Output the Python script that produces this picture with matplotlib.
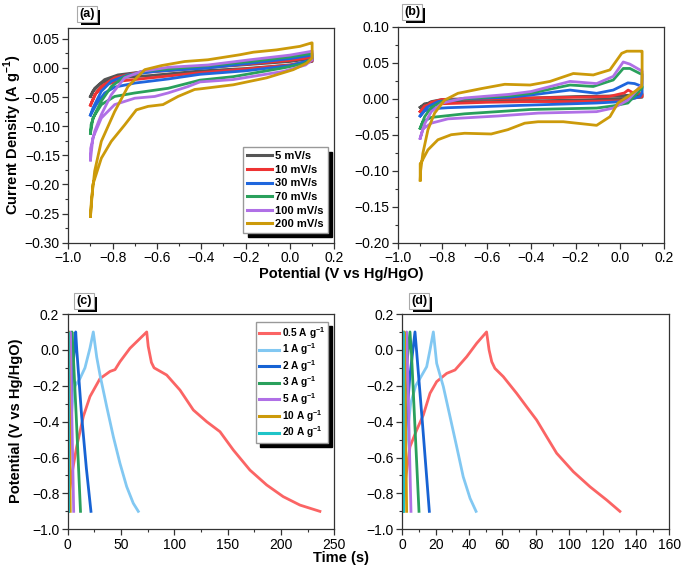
import matplotlib
matplotlib.use("Agg")
import matplotlib.pyplot as plt
from matplotlib.ticker import MultipleLocator, FuncFormatter
import matplotlib.patheffects as pe

plt.rcParams['font.family'] = ['Liberation Sans', 'DejaVu Sans']
plt.rcParams['mathtext.fontset'] = 'custom'
plt.rcParams['mathtext.rm'] = 'Liberation Sans'
plt.rcParams['mathtext.bf'] = 'Liberation Sans:bold'
plt.rcParams['axes.unicode_minus'] = True

# ---------------- Panel (a): CV ----------------
cv_labels = ['5 mV/s', '10 mV/s', '30 mV/s', '70 mV/s', '100 mV/s', '200 mV/s']
cv_colors = ['#555555', '#ee3333', '#1f66dd', '#2aa05c', '#b070e6', '#cc9a0a']

a5_x = [-0.90, -0.881, -0.836, -0.776, -0.671, -0.37, -0.18, 0.0, 0.10,
        0.10, 0.0, -0.2, -0.4, -0.626, -0.776, -0.851, -0.889, -0.90]
a5_y = [-0.049, -0.035, -0.020, -0.012, -0.007, 0.001, 0.006, 0.011, 0.016,
        0.011, 0.005, -0.001, -0.005, -0.013, -0.017, -0.026, -0.040, -0.049]
a10_x = [-0.90, -0.881, -0.851, -0.791, -0.70, -0.37, -0.18, 0.0, 0.10,
         0.10, 0.0, -0.2, -0.4, -0.626, -0.776, -0.836, -0.874, -0.90]
a10_y = [-0.064, -0.046, -0.032, -0.017, -0.009, 0.001, 0.007, 0.013, 0.018,
         0.012, 0.005, -0.002, -0.008, -0.017, -0.023, -0.029, -0.043, -0.064]
a30_x = [-0.90, -0.889, -0.851, -0.806, -0.731, -0.61, -0.37, -0.18, 0.0, 0.10,
         0.10, 0.0, -0.2, -0.406, -0.55, -0.70, -0.791, -0.836, -0.874, -0.90]
a30_y = [-0.081, -0.069, -0.040, -0.023, -0.012, -0.006, 0.0, 0.008, 0.016, 0.022,
         0.014, 0.004, -0.005, -0.011, -0.019, -0.026, -0.033, -0.043, -0.063, -0.081]
a70_x = [-0.90, -0.897, -0.881, -0.851, -0.806, -0.746, -0.655, -0.37, -0.18, 0.0, 0.10,
         0.10, 0.06, -0.03, -0.256, -0.406, -0.55, -0.70, -0.791, -0.851, -0.889, -0.90]
a70_y = [-0.112, -0.097, -0.080, -0.057, -0.032, -0.015, -0.005, 0.004, 0.011, 0.019, 0.025,
         0.016, 0.007, 0.0, -0.015, -0.021, -0.035, -0.043, -0.049, -0.063, -0.086, -0.112]
a100_x = [-0.90, -0.899, -0.881, -0.851, -0.806, -0.746, -0.671, -0.55, -0.37, -0.18, 0.0, 0.09, 0.10,
          0.10, 0.07, -0.03, -0.256, -0.406, -0.46, -0.55, -0.61, -0.70, -0.791, -0.851, -0.889, -0.90]
a100_y = [-0.158, -0.138, -0.109, -0.080, -0.046, -0.017, -0.006, 0.001, 0.005, 0.014, 0.022, 0.028, 0.029,
          0.014, 0.005, -0.006, -0.020, -0.024, -0.032, -0.043, -0.049, -0.052, -0.063, -0.086, -0.120, -0.158]
a200_x = [-0.900, -0.896, -0.881, -0.851, -0.791, -0.731, -0.655, -0.580, -0.475, -0.370, -0.226, -0.165,
          -0.060, 0.045, 0.098, 0.100,
          0.100, 0.075, 0.015, -0.105, -0.256, -0.406, -0.430, -0.505, -0.573, -0.640, -0.693, -0.746,
          -0.806, -0.851, -0.889, -0.900]
a200_y = [-0.255, -0.229, -0.177, -0.126, -0.075, -0.032, -0.003, 0.004, 0.011, 0.014, 0.0226, 0.027,
          0.031, 0.037, 0.043, 0.043,
          0.017, 0.008, -0.003, -0.017, -0.029, -0.036, -0.037, -0.049, -0.063, -0.066, -0.072, -0.098,
          -0.126, -0.155, -0.200, -0.255]

# ---------------- Panel (b): CV ----------------
b5_x = [-0.90, -0.85, -0.80, -0.60, -0.40, -0.20, 0.0, 0.10,
        0.10, 0.0, -0.2, -0.4, -0.6, -0.8, -0.88, -0.90]
b5_y = [-0.012, -0.004, -0.001, 0.000, 0.001, 0.003, 0.004, 0.006,
        0.002, 0.000, -0.002, -0.003, -0.004, -0.005, -0.007, -0.012]
b10_x = [-0.90, -0.85, -0.80, -0.60, -0.40, -0.20, -0.05, 0.02, 0.037, 0.06, 0.10,
         0.10, 0.0, -0.2, -0.4, -0.6, -0.8, -0.88, -0.90]
b10_y = [-0.018, -0.005, -0.001, 0.000, 0.001, 0.002, 0.003, 0.008, 0.012, 0.008, 0.007,
         0.003, -0.003, -0.004, -0.004, -0.005, -0.007, -0.010, -0.018]
b30_x = [-0.90, -0.87, -0.82, -0.70, -0.50, -0.405, -0.225, -0.105, -0.03, 0.036, 0.066, 0.10,
         0.10, 0.09, 0.015, -0.105, -0.368, -0.775, -0.850, -0.880, -0.90]
b30_y = [-0.024, -0.012, -0.004, 0.000, 0.002, 0.005, 0.012, 0.0075, 0.012, 0.022, 0.021, 0.017,
         0.008, 0.003, -0.004, -0.006, -0.0085, -0.0125, -0.014, -0.017, -0.024]
b70_x = [-0.90, -0.88, -0.85, -0.80, -0.70, -0.50, -0.405, -0.225, -0.12, -0.03, 0.015, 0.045, 0.09, 0.10,
         0.10, 0.036, -0.03, -0.105, -0.405, -0.70, -0.85, -0.888, -0.90]
b70_y = [-0.041, -0.025, -0.012, -0.004, 0.000, 0.004, 0.0075, 0.019, 0.017, 0.026, 0.042, 0.042, 0.035, 0.034,
         0.015, -0.006, -0.010, -0.013, -0.015, -0.021, -0.026, -0.032, -0.041]
b100_x = [-0.90, -0.88, -0.85, -0.80, -0.70, -0.50, -0.40, -0.225, -0.105, -0.03, 0.015, 0.045, 0.09, 0.10,
          0.10, 0.036, -0.03, -0.105, -0.368, -0.549, -0.775, -0.85, -0.888, -0.90]
b100_y = [-0.055, -0.035, -0.018, -0.006, 0.001, 0.006, 0.010, 0.024, 0.021, 0.031, 0.051, 0.048, 0.040, 0.038,
          0.020, -0.002, -0.013, -0.018, -0.020, -0.024, -0.028, -0.034, -0.042, -0.055]
b200_x = [-0.900, -0.898, -0.888, -0.865, -0.835, -0.790, -0.730, -0.625, -0.519, -0.405, -0.315, -0.210,
          -0.120, -0.045, 0.008, 0.031, 0.098, 0.100,
          0.100, 0.098, 0.036, -0.009, -0.045, -0.105, -0.135, -0.255, -0.369, -0.429, -0.505, -0.580,
          -0.700, -0.760, -0.820, -0.865, -0.898, -0.900, -0.900]
b200_y = [-0.113, -0.100, -0.076, -0.043, -0.020, -0.002, 0.0075, 0.014, 0.020, 0.019, 0.024, 0.035,
          0.033, 0.040, 0.063, 0.066, 0.066, 0.066,
          0.030, 0.017, 0.003, -0.006, -0.025, -0.037, -0.036, -0.032, -0.032, -0.034, -0.043, -0.049,
          -0.048, -0.050, -0.057, -0.071, -0.090, -0.090, -0.113]

# ---------------- Panel (c): GCD ----------------
gcd_labels = [r'0.5 A g$^{\mathbf{-1}}$', r'1 A g$^{\mathbf{-1}}$', r'2 A g$^{\mathbf{-1}}$',
              r'3 A g$^{\mathbf{-1}}$', r'5 A g$^{\mathbf{-1}}$', r'10 A g$^{\mathbf{-1}}$',
              r'20 A g$^{\mathbf{-1}}$']
gcd_colors = ['#fb6464', '#82c8f2', '#1763d4', '#2aa05c', '#b070e6', '#cc9a0a', '#20c4c8']

c05_t = [0.3, 1.0, 3.7, 8.4, 14.7, 20.9, 30.3, 39.7, 44.4, 49.0, 58.4, 74.1,
         75.5, 78.5, 81.0, 92.8, 105.3, 117.8, 130.3, 142.8, 155.3, 170.9, 186.6, 202.1, 217.8, 236.5]
c05_v = [-0.90, -0.82, -0.70, -0.54, -0.37, -0.26, -0.16, -0.12, -0.11, -0.066, 0.009, 0.10,
         0.02, -0.07, -0.10, -0.14, -0.224, -0.335, -0.40, -0.456, -0.558, -0.67, -0.753, -0.818, -0.865, -0.90]
c1_t = [0.3, 1.5, 3.0, 5.0, 7.0, 11.5, 16.2, 20.9, 24.0,
        27.2, 30.3, 36.6, 42.8, 49.0, 55.3, 61.5, 66.2]
c1_v = [-0.90, -0.60, -0.40, -0.26, -0.20, -0.16, -0.10, 0.01, 0.10,
        -0.04, -0.14, -0.317, -0.484, -0.632, -0.762, -0.855, -0.90]
c2_t = [0.4, 2.0, 4.5, 6.2, 7.5, 8.5, 13.1, 17.5, 21.8]
c2_v = [-0.90, -0.45, -0.12, 0.0, 0.10, 0.0, -0.37, -0.66, -0.90]
c3_t = [0.3, 1.5, 2.8, 4.0, 5.0, 8.0, 12.0]
c3_v = [-0.90, -0.40, -0.10, 0.10, 0.0, -0.37, -0.90]
c5_t = [0.2, 1.0, 2.2, 2.8, 4.0, 5.6]
c5_v = [-0.90, -0.35, 0.10, 0.0, -0.40, -0.90]
c10_t = [0.1, 0.6, 0.9, 1.5, 2.4]
c10_v = [-0.90, -0.30, 0.10, -0.30, -0.90]
c20_t = [0.0, 0.3, 0.4, 0.9]
c20_v = [-0.90, 0.10, 0.10, -0.90]

# ---------------- Panel (d): GCD ----------------
d05_t = [0.5, 1.5, 4.6, 8.6, 12.6, 16.6, 20.6, 26.6, 31.6, 38.6, 44.6, 50.5,
         52.0, 53.6, 55.5, 60.5, 68.5, 74.5, 80.5, 86.5, 92.5, 102.5, 112.5, 122.5, 130.4]
d05_v = [-0.90, -0.75, -0.54, -0.447, -0.363, -0.242, -0.177, -0.131, -0.112, -0.038, 0.037, 0.10,
         0.0, -0.066, -0.103, -0.149, -0.242, -0.317, -0.391, -0.484, -0.576, -0.679, -0.763, -0.837, -0.90]
d1_t = [0.3, 2.0, 5.0, 8.0, 10.6, 14.6, 16.6, 18.6,
        20.6, 24.6, 28.6, 32.6, 36.5, 40.6, 44.2]
d1_v = [-0.90, -0.55, -0.30, -0.20, -0.159, -0.094, 0.0, 0.10,
        -0.075, -0.205, -0.372, -0.540, -0.707, -0.827, -0.90]
d2_t = [0.3, 2.0, 4.5, 7.6, 8.5, 12.0, 16.2]
d2_v = [-0.90, -0.45, -0.15, 0.10, 0.0, -0.40, -0.90]
d3_t = [0.2, 1.2, 2.5, 4.6, 5.5, 10.0]
d3_v = [-0.90, -0.40, -0.10, 0.10, -0.02, -0.90]
d5_t = [0.1, 1.0, 2.6, 3.4, 5.2]
d5_v = [-0.90, -0.35, 0.10, -0.20, -0.90]
d10_t = [0.1, 0.5, 1.2, 1.8, 2.6]
d10_v = [-0.90, -0.30, 0.10, -0.30, -0.90]
d20_t = [0.0, 0.4, 0.5, 0.8]
d20_v = [-0.90, 0.10, 0.10, -0.90]

# ---------------- Figure ----------------
fig = plt.figure(figsize=(6.82, 5.72), dpi=100)
W, H = 682.0, 572.0

def add_ax(l, r, t, b):
    return fig.add_axes([l / W, 1 - b / H, (r - l) / W, (b - t) / H])

axA = add_ax(68.3, 334.3, 28.3, 242.7)
axB = add_ax(398.0, 664.3, 26.7, 242.7)
axC = add_ax(67.7, 334.3, 314.0, 529.3)
axD = add_ax(402.3, 669.3, 314.0, 529.3)

def fmt(nd):
    def f(v, pos):
        s = ('%.' + str(nd) + 'f') % v
        if float(s) == 0:
            s = s.lstrip('-')
        return s.replace('-', '\u2212')
    return FuncFormatter(f)

def style(ax):
    for s in ax.spines.values():
        s.set_linewidth(0.9)
        s.set_color('#333333')
    ax.tick_params(which='both', direction='out', top=False, right=False, labelsize=10,
                   color='#333333', pad=2)
    ax.tick_params(which='major', length=4, width=0.9)
    ax.tick_params(which='minor', length=2.2, width=0.8)

cvA = [(a5_x, a5_y), (a10_x, a10_y), (a30_x, a30_y), (a70_x, a70_y), (a100_x, a100_y), (a200_x, a200_y)]
cvB = [(b5_x, b5_y), (b10_x, b10_y), (b30_x, b30_y), (b70_x, b70_y), (b100_x, b100_y), (b200_x, b200_y)]

for (x, y), c, lab in zip(cvA, cv_colors, cv_labels):
    axA.plot(x, y, color=c, lw=2.0, label=lab, solid_joinstyle='round')
for (x, y), c in zip(cvB, cv_colors):
    axB.plot(x, y, color=c, lw=2.0, solid_joinstyle='round')

for ax in (axA, axB):
    ax.set_xlim(-1.0, 0.2)
    ax.xaxis.set_major_locator(MultipleLocator(0.2))
    ax.xaxis.set_minor_locator(MultipleLocator(0.1))
    ax.xaxis.set_major_formatter(fmt(1))
    ax.yaxis.set_major_locator(MultipleLocator(0.05))
    ax.yaxis.set_minor_locator(MultipleLocator(0.025))
    ax.yaxis.set_major_formatter(fmt(2))
    style(ax)
axA.set_ylim(-0.30, 0.068)
axB.set_ylim(-0.20, 0.10)

gC = [(c05_t, c05_v), (c1_t, c1_v), (c2_t, c2_v), (c3_t, c3_v), (c5_t, c5_v), (c10_t, c10_v), (c20_t, c20_v)]
gD = [(d05_t, d05_v), (d1_t, d1_v), (d2_t, d2_v), (d3_t, d3_v), (d5_t, d5_v), (d10_t, d10_v), (d20_t, d20_v)]
for (t, v), c, lab in zip(gC, gcd_colors, gcd_labels):
    axC.plot(t, v, color=c, lw=2.0, label=lab, solid_joinstyle='round')
for (t, v), c in zip(gD, gcd_colors):
    axD.plot(t, v, color=c, lw=2.0, solid_joinstyle='round')

axC.set_xlim(0, 250)
axC.xaxis.set_major_locator(MultipleLocator(50))
axC.xaxis.set_minor_locator(MultipleLocator(25))
axD.set_xlim(0, 160)
axD.xaxis.set_major_locator(MultipleLocator(20))
axD.xaxis.set_minor_locator(MultipleLocator(10))
for ax in (axC, axD):
    ax.set_ylim(-1.0, 0.2)
    ax.yaxis.set_major_locator(MultipleLocator(0.2))
    ax.yaxis.set_minor_locator(MultipleLocator(0.1))
    ax.yaxis.set_major_formatter(fmt(1))
    style(ax)

# Legends
shadow = {'color': 'black', 'alpha': 1.0, 'ox': 3, 'oy': -3}
legA = axA.legend(loc='lower right', bbox_to_anchor=(0.975, 0.045), borderaxespad=0,
                  prop={'weight': 'bold', 'size': 8}, handlelength=2.2, handletextpad=0.3,
                  labelspacing=0.32, borderpad=0.35, fancybox=False, framealpha=1,
                  edgecolor='#999999', shadow=shadow)
for l in legA.get_lines():
    l.set_linewidth(2.2)
legC = axC.legend(loc='upper right', bbox_to_anchor=(0.977, 0.964), borderaxespad=0,
                  prop={'weight': 'bold', 'size': 7.3}, handlelength=2.0, handletextpad=0.3,
                  labelspacing=0.08, borderpad=0.3, fancybox=False, framealpha=1,
                  edgecolor='#999999', shadow=shadow)
for l in legC.get_lines():
    l.set_linewidth(2.2)

# Axis labels
fig.text(2 / W, 1 - 135 / H, r'Current Density (A g$^{\mathbf{-1}}$)', rotation=90,
         ha='left', va='center', fontsize=10.5, fontweight='bold')
fig.text(341 / W, 1 - 274 / H, 'Potential (V vs Hg/HgO)', ha='center', va='center',
         fontsize=10.5, fontweight='bold')
fig.text(9 / W, 1 - 421 / H, 'Potential (V vs Hg/HgO)', rotation=90,
         ha='left', va='center', fontsize=10.5, fontweight='bold')
fig.text(341 / W, 1 - 558 / H, 'Time (s)', ha='center', va='center',
         fontsize=10.5, fontweight='bold')

# Panel labels
for lab, (px, py) in zip(['(a)', '(b)', '(c)', '(d)'],
                         [(87, 14), (412, 12), (84, 301), (419, 301)]):
    t = fig.text(px / W, 1 - py / H, lab, ha='center', va='center', fontsize=9, fontweight='bold',
                 bbox=dict(boxstyle='square,pad=0.15', fc='white', ec='#aaaaaa', lw=0.8))
    t.get_bbox_patch().set_path_effects([
        pe.SimplePatchShadow(offset=(2.5, -2.5), shadow_rgbFace='black', alpha=1.0),
        pe.Normal()])

fig.savefig('out.png', dpi=100)
